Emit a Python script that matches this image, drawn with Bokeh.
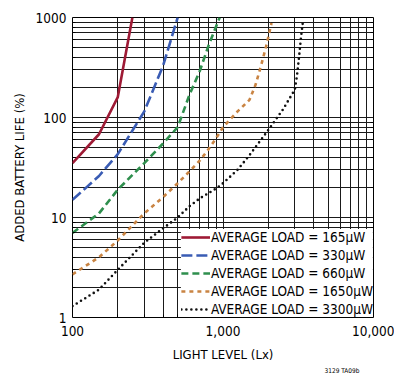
from bokeh.plotting import figure
from bokeh.models import (FixedTicker, NumeralTickFormatter, Legend, LegendItem,
                          Title, LogAxis)
from bokeh.embed import file_html
from bokeh.resources import INLINE

# ---- data ----
lux_165 = [100, 150, 200, 250]
life_165 = [35, 68, 160, 1000]

lux_330 = [100, 150, 200, 300, 400, 500]
life_330 = [15, 26, 43, 115, 330, 1000]

lux_660 = [100, 150, 200, 300, 400, 500, 600, 700, 800, 950]
life_660 = [7, 11, 19, 35, 55, 80, 170, 290, 520, 1000]

lux_1650 = [100, 150, 200, 300, 400, 500, 600, 700, 800, 900, 1000, 1250, 1500,
            1650, 1800, 1950, 2100]
life_1650 = [2.7, 4.0, 5.9, 11, 16, 22, 29, 37, 48, 62, 80, 115, 150,
             215, 340, 540, 880]

lux_3300 = [100, 150, 200, 300, 400, 500, 600, 700, 800, 900, 1000, 1250, 1500,
            2000, 2500, 3000, 3100, 3200, 3300, 3400]
life_3300 = [1.3, 1.9, 3.0, 5.6, 7.8, 10, 13, 15.5, 17.5, 19.5, 22, 30, 42,
             75, 120, 190, 260, 400, 640, 920]

series_labels = ["AVERAGE LOAD = 165µW", "AVERAGE LOAD = 330µW",
                 "AVERAGE LOAD = 660µW", "AVERAGE LOAD = 1650µW",
                 "AVERAGE LOAD = 3300µW"]

x_major = [100, 1000, 10000]
y_major = [1, 10, 100, 1000]
x_minor = [m * d for d in (100, 1000) for m in range(2, 10)]
y_minor = [m * d for d in (1, 10, 100) for m in range(2, 10)]

FONT = "'DejaVu Sans Condensed', 'Liberation Sans Narrow', sans-serif"

p = figure(width=394, height=375, x_axis_type="log", y_axis_type="log",
           x_range=(100, 10000), y_range=(1, 1000),
           output_backend="svg", toolbar_location=None,
           min_border_left=72, min_border_right=21,
           min_border_top=17, min_border_bottom=58)

p.outline_line_color = "black"
p.outline_line_width = 1
p.background_fill_color = "white"
p.border_fill_color = "white"

xt = FixedTicker(ticks=x_major, minor_ticks=x_minor)
yt = FixedTicker(ticks=y_major, minor_ticks=y_minor)
p.xaxis.ticker = xt
p.yaxis.ticker = yt
p.xgrid.ticker = xt
p.ygrid.ticker = yt

for g in (p.xgrid, p.ygrid):
    g.grid_line_color = "#1a1a1a"
    g.grid_line_width = 1
    g.grid_line_alpha = 1
    g.minor_grid_line_color = "#1a1a1a"
    g.minor_grid_line_width = 1
    g.minor_grid_line_alpha = 1

p.xaxis.formatter = NumeralTickFormatter(format="0,0")
p.yaxis.formatter = NumeralTickFormatter(format="0")

for ax in (p.xaxis, p.yaxis):
    ax.axis_line_color = None
    ax.major_tick_out = 0
    ax.major_tick_in = 0
    ax.minor_tick_out = 0
    ax.minor_tick_in = 3
    ax.minor_tick_line_color = "black"
    ax.major_label_text_font = FONT
    ax.major_label_text_font_size = "13.5px"
    ax.major_label_text_color = "black"
    ax.axis_label_text_font = FONT
    ax.axis_label_text_font_size = "13px"
    ax.axis_label_text_font_style = "normal"
    ax.axis_label_text_color = "black"

p.xaxis.axis_label = "LIGHT LEVEL (Lx)"
p.yaxis.axis_label = "ADDED BATTERY LIFE (%)"
p.xaxis.major_label_standoff = 8
p.xaxis.axis_label_standoff = 8
p.yaxis.major_label_standoff = 6
p.yaxis.axis_label_standoff = 6

# right axis only for the inward tick marks
ry = LogAxis(ticker=yt, major_label_text_font_size="0px", axis_line_color=None,
             major_tick_in=0, major_tick_out=0, minor_tick_in=3, minor_tick_out=0,
             minor_tick_line_color="black", major_label_text_color=None)
p.add_layout(ry, "right")

styles = [
    (lux_165, life_165, "#9e1a35", "solid"),
    (lux_330, life_330, "#3a5cb4", "11 4"),
    (lux_660, life_660, "#2f8f4e", "7 4"),
    (lux_1650, life_1650, "#c98443", "4 4"),
    (lux_3300, life_3300, "#111111", "0 5"),
]

items = []
for (xs, ys, col, dash), lab in zip(styles, series_labels):
    r = p.line(xs, ys, line_color=col, line_width=2.6, line_dash=dash,
               line_cap="round" if dash == "0 5" else "butt")
    items.append(LegendItem(label=lab, renderers=[r]))

legend = Legend(items=items, location="bottom_right", margin=0, padding=5,
                spacing=2, glyph_width=29, glyph_height=16, label_height=16,
                label_standoff=1, background_fill_color="white",
                background_fill_alpha=1, border_line_color=None,
                label_text_font=FONT, label_text_font_size="13.5px",
                label_text_color="black")
legend.level = "underlay"
p.add_layout(legend)

note = Title(text="3129 TA09b", align="right", offset=14, standoff=0,
             text_font=FONT, text_font_size="6.5px", text_font_style="normal",
             text_color="black")
p.add_layout(note, "below")

open("out.html", "w").write(file_html(p, INLINE))
